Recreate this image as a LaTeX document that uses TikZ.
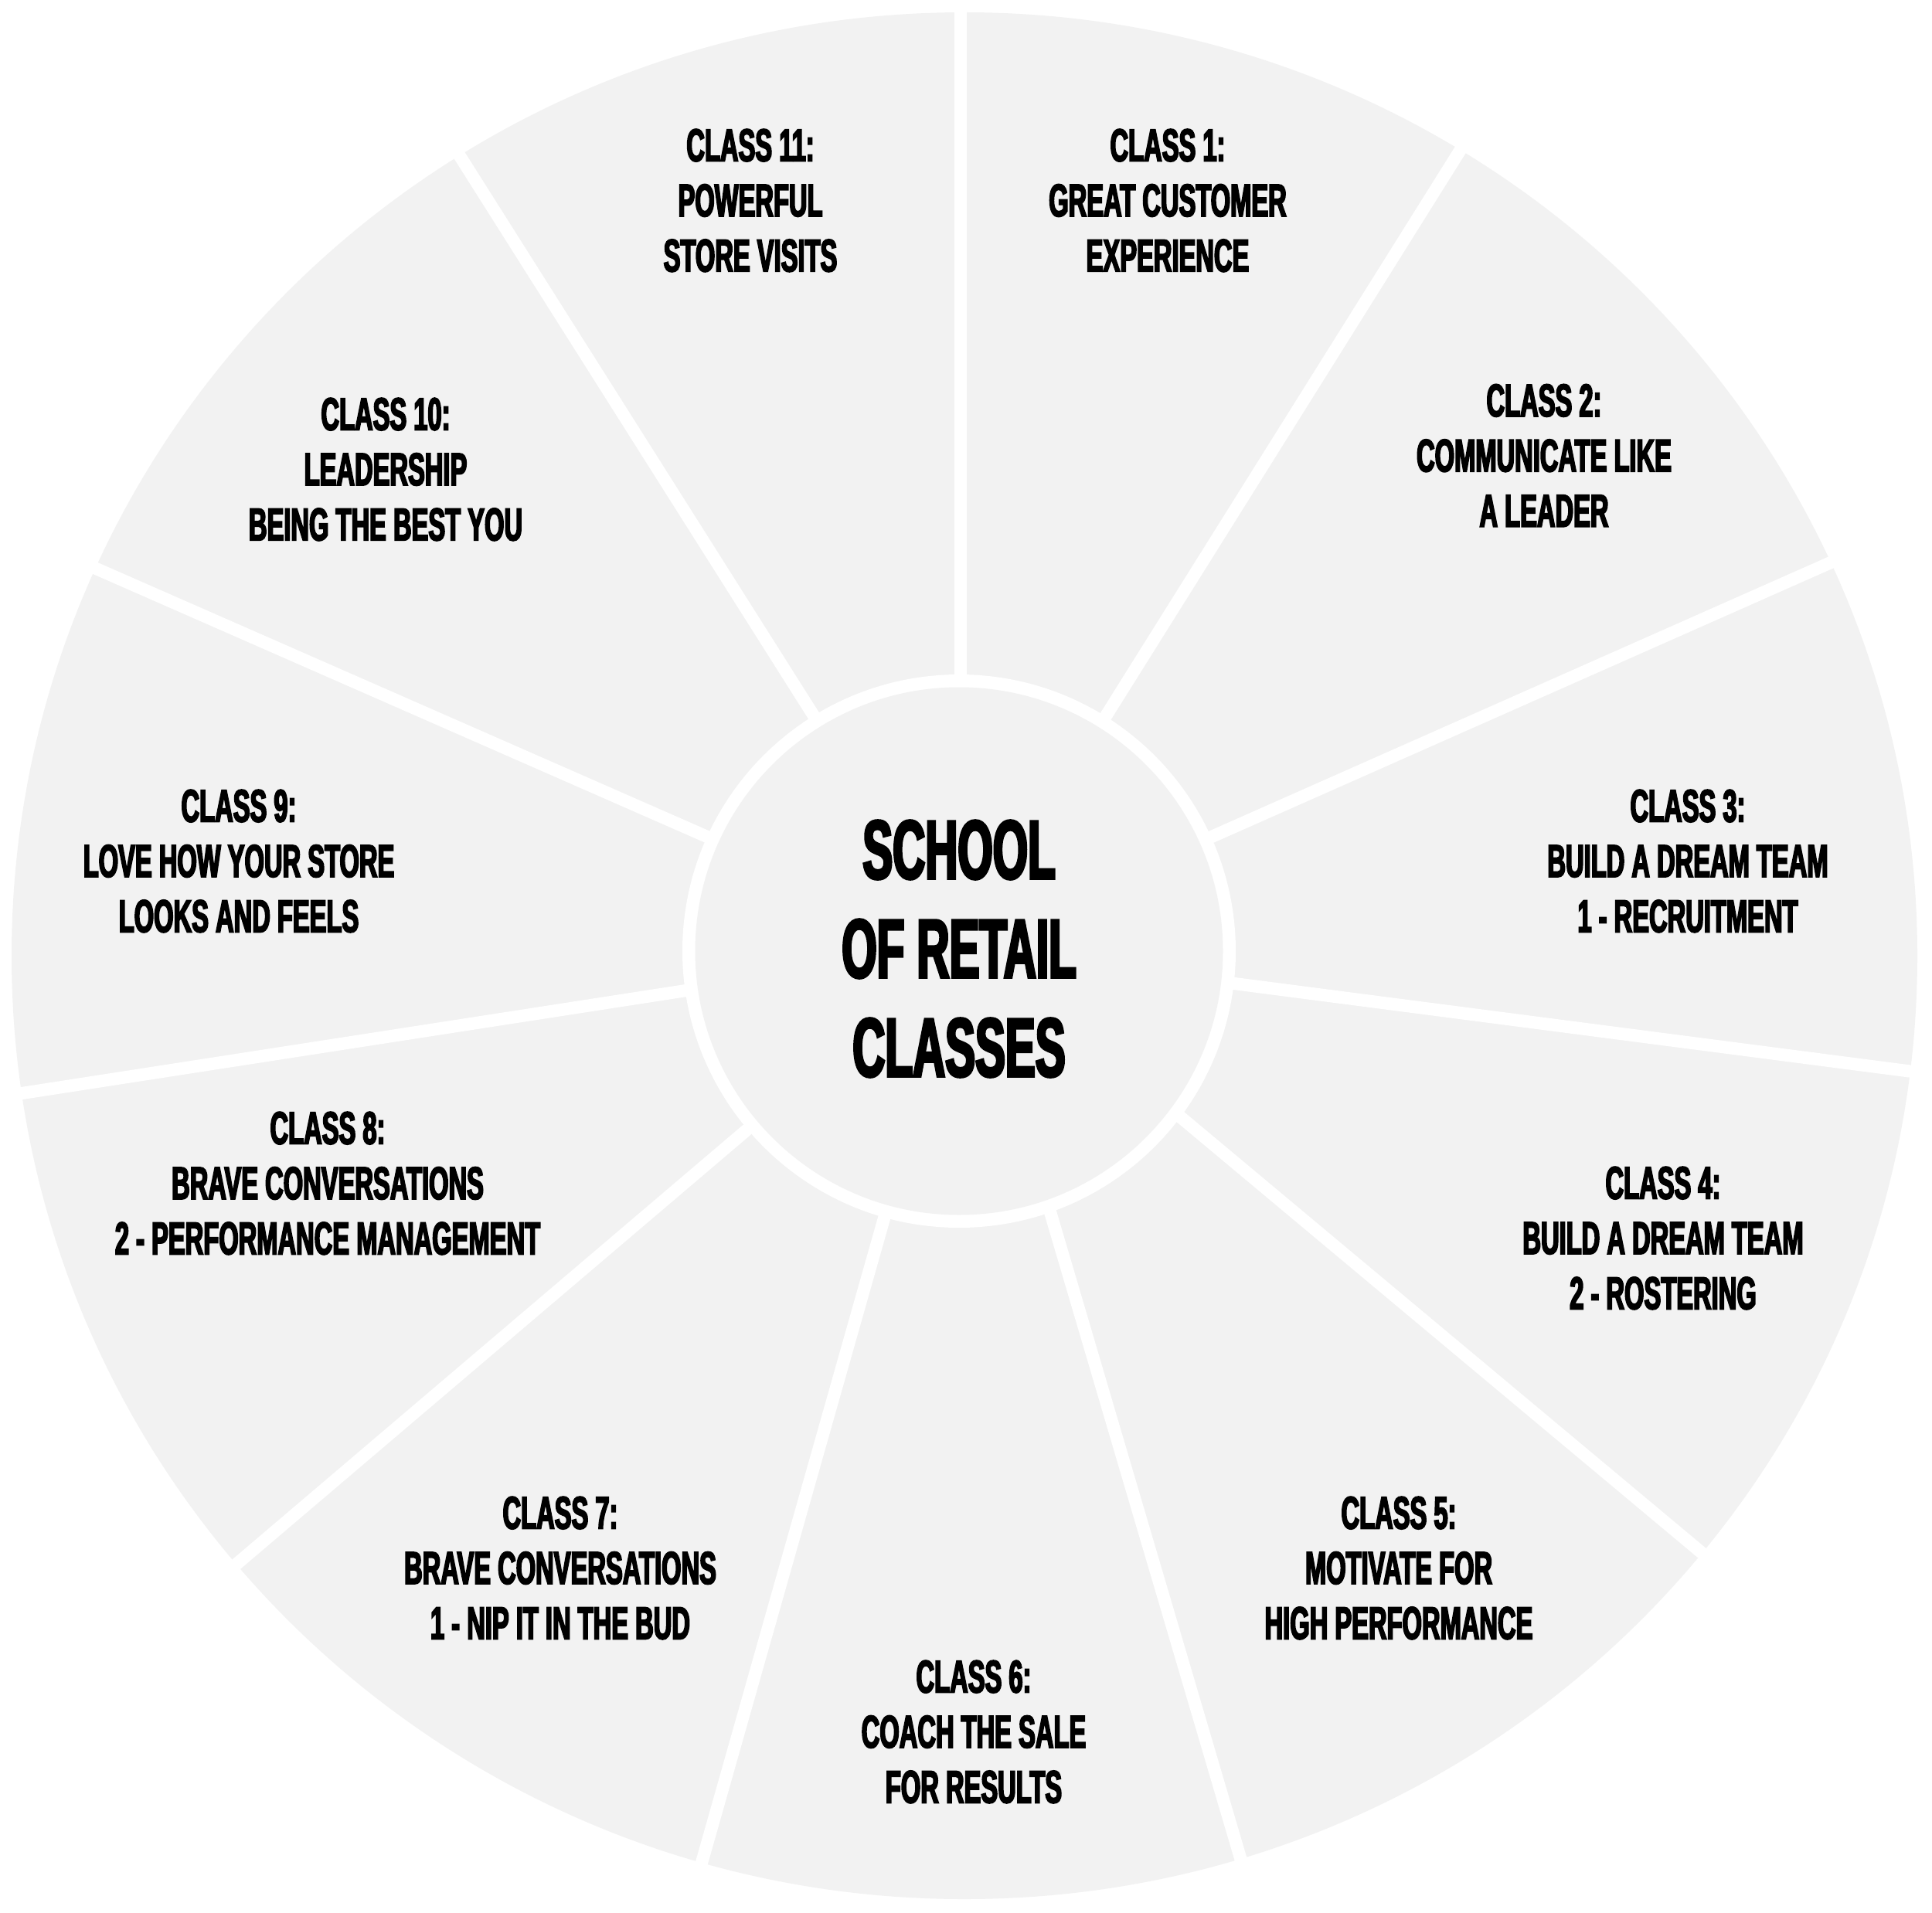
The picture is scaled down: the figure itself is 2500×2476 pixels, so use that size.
\documentclass[tikz,border=0pt]{standalone}
\usepackage{fontspec}
\usetikzlibrary{calc}
\newfontfamily\clsfont{Liberation Sans}[FakeStretch=0.55,FakeBold=3]
\newfontfamily\ctrfont{Liberation Sans}[FakeStretch=0.54,FakeBold=3]
\definecolor{segfill}{RGB}{242,242,242}
\begin{document}
\begin{tikzpicture}[x=0.01cm,y=-0.01cm,
  spoke/.style={draw=white,line width=4.6pt,line cap=butt},
  classlabel/.style={align=center,inner sep=0pt,anchor=center,text=black,
    font=\clsfont\bfseries\fontsize{16.9}{20.3}\selectfont},
  centerlabel/.style={align=center,inner sep=0pt,anchor=center,text=black,
    font=\ctrfont\bfseries\fontsize{30.7}{36.4}\selectfont}]
\fill[white] (0,0) rectangle (2500,2476);
\useasboundingbox (0,0) rectangle (2500,2476);
% outer disc
\fill[segfill] (1248,1237) ellipse [x radius=1233, y radius=1221];
% hub of the spokes and centre of the inner disc
\coordinate (hub) at (1243,1227);
\coordinate (c) at (1241,1231);
% spokes (angle measured clockwise from the right, as drawn)
\foreach \k/\a in {0/-90,1/-57.95,2/-23.9,3/7.4,6/105.8,7/139.6,8/171.2,9/203.7,10/237.7}{
  \coordinate (s\k) at ($(hub)+(\a:1260)$);
  \draw[spoke] (hub) -- (s\k);
}
% the two spokes that run a little off the hub
\coordinate (p4) at (1328.4,1279.3);
\coordinate (s4) at ($(p4)+(39.9:1400)$);
\draw[spoke] (p4) -- (s4);
\coordinate (p5) at (1270,1266.3);
\coordinate (s5) at ($(p5)+(73.6:1300)$);
\draw[spoke] (p5) -- (s5);
% inner ring and disc
\fill[white] (c) circle [radius=358];
\fill[segfill] (c) circle [radius=341.5];
% centre text
\node[centerlabel] (ctr) at (1241,1228) {SCHOOL\\OF RETAIL\\CLASSES};
% class labels
\node[classlabel] (c1) at (1511,259.5) {CLASS 1:\\GREAT CUSTOMER\\EXPERIENCE};
\node[classlabel] (c2) at (1998,589.5) {CLASS 2:\\COMMUNICATE LIKE\\A LEADER};
\node[classlabel] (c3) at (2184,1114.5) {CLASS 3:\\BUILD A DREAM TEAM\\1 - RECRUITMENT};
\node[classlabel] (c4) at (2152,1602.5) {CLASS 4:\\BUILD A DREAM TEAM\\2 - ROSTERING};
\node[classlabel] (c5) at (1810,2029.5) {CLASS 5:\\MOTIVATE FOR\\HIGH PERFORMANCE};
\node[classlabel] (c6) at (1260,2241.5) {CLASS 6:\\COACH THE SALE\\FOR RESULTS};
\node[classlabel] (c7) at (725,2029.5) {CLASS 7:\\BRAVE CONVERSATIONS\\1 - NIP IT IN THE BUD};
\node[classlabel] (c8) at (424,1531.5) {CLASS 8:\\BRAVE CONVERSATIONS\\2 - PERFORMANCE MANAGEMENT};
\node[classlabel] (c9) at (309,1114.5) {CLASS 9:\\LOVE HOW YOUR STORE\\LOOKS AND FEELS};
\node[classlabel] (c10) at (499,607.5) {CLASS 10:\\LEADERSHIP\\BEING THE BEST YOU};
\node[classlabel] (c11) at (971,259.5) {CLASS 11:\\POWERFUL\\STORE VISITS};
\end{tikzpicture}
\end{document}
